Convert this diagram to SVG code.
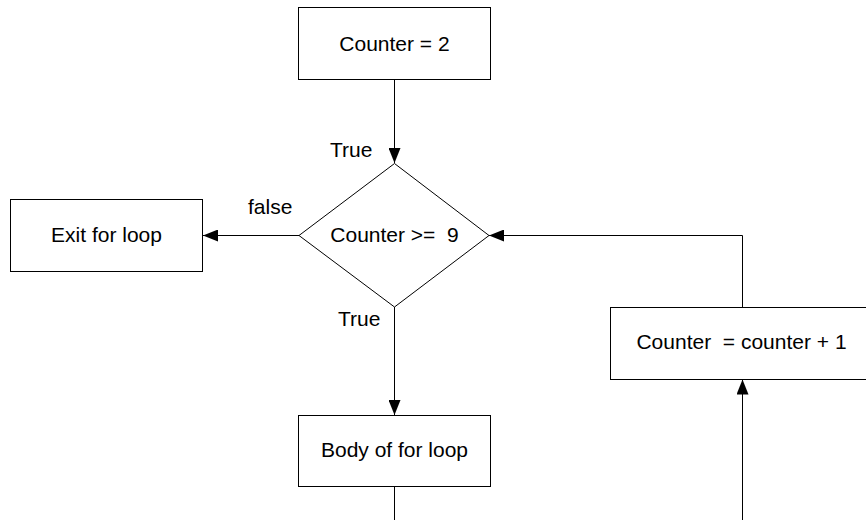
<svg xmlns="http://www.w3.org/2000/svg" width="866" height="520" viewBox="0 0 866 520">
  <style>
    .box { fill: #fff; stroke: #000; stroke-width: 1; }
    .line { fill: none; stroke: #000; stroke-width: 1; }
    .lbl { font-family: "Liberation Sans", Arial, sans-serif; font-size: 21px; fill: #000; }
    .mid { text-anchor: middle; }
  </style>
  <defs>
    <marker id="arrow" markerUnits="userSpaceOnUse" markerWidth="15" markerHeight="12" refX="15" refY="6" orient="auto">
      <path d="M0,0 L15,6 L0,12 z" fill="#000"/>
    </marker>
  </defs>
  <rect width="866" height="520" fill="#fff"/>

  <g id="connectors">
    <path class="line" d="M394.5,79.5 V163" marker-end="url(#arrow)"/>
    <path class="line" d="M299,235.5 H203" marker-end="url(#arrow)"/>
    <path class="line" d="M394.5,307 V415" marker-end="url(#arrow)"/>
    <path class="line" d="M394.5,487 V520"/>
    <path class="line" d="M742.5,520 V379.5" marker-end="url(#arrow)"/>
    <path class="line" d="M742.5,307.5 V235.5 H489" marker-end="url(#arrow)"/>
    <text class="lbl" x="330" y="157">True</text>
    <text class="lbl" x="248" y="214">false</text>
    <text class="lbl" x="338" y="326">True</text>
  </g>

  <g id="init">
    <rect class="box" x="298.5" y="7.5" width="192" height="72"/>
    <text class="lbl mid" x="394.5" y="50.5">Counter = 2</text>
  </g>

  <g id="condition">
    <polygon class="box" points="394.5,163.5 489,235.5 394.5,307 299,235.5"/>
    <text class="lbl mid" x="394.5" y="242" xml:space="preserve">Counter &gt;=  9</text>
  </g>

  <g id="exit">
    <rect class="box" x="10.5" y="199.5" width="192" height="72"/>
    <text class="lbl mid" x="106.5" y="242">Exit for loop</text>
  </g>

  <g id="body">
    <rect class="box" x="298.5" y="415.5" width="192" height="71"/>
    <text class="lbl mid" x="394.5" y="457">Body of for loop</text>
  </g>

  <g id="increment">
    <rect class="box" x="610.5" y="307.5" width="256" height="72"/>
    <text class="lbl mid" x="741.5" y="349" xml:space="preserve">Counter  = counter + 1</text>
  </g>
</svg>
